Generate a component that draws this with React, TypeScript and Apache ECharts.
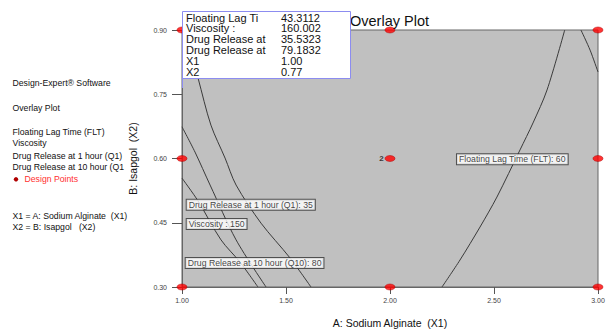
import React, { useEffect, useRef } from 'react';
import * as echarts from 'echarts';

// Design points (A: Sodium Alginate, B: Isapgol)
const designX = [1, 2, 3, 1, 2, 3, 1, 2, 3];
const designY = [0.9, 0.9, 0.9, 0.6, 0.6, 0.6, 0.3, 0.3, 0.3];
const designLabels = ['', '', '', '', '2', '', '', '', ''];

// Contour lines
const contourVisc150X = [1.0, 1.077, 1.1875, 1.279, 1.365];
const contourVisc150Y = [0.554, 0.501, 0.41, 0.358, 0.3];
const contourQ1X = [1.0, 1.0625, 1.135, 1.26, 1.404];
const contourQ1Y = [0.674, 0.615, 0.538, 0.41, 0.3];
const contourQ10X = [1.014, 1.077, 1.139, 1.207, 1.26, 1.38, 1.519, 1.62];
const contourQ10Y = [0.9, 0.788, 0.678, 0.601, 0.538, 0.449, 0.368, 0.3];
const contourFLT60X = [2.25, 2.3365, 2.4327, 2.514, 2.625, 2.6875, 2.755, 2.84];
const contourFLT60Y = [0.3, 0.363, 0.44, 0.51, 0.62, 0.683, 0.76, 0.9];
const contourCornerX = [2.918, 2.962, 3.0];
const contourCornerY = [0.9, 0.853, 0.802];

// Contour labels: text, anchor x, anchor y
const contourLabelText = [
  'Floating Lag Time (FLT): 60',
  'Drug Release at 1 hour (Q1): 35',
  'Viscosity : 150',
  'Drug Release at 10 hour (Q10): 80',
];
const contourLabelX = [2.322, 1.0226, 1.0226, 1.0178];
const contourLabelY = [0.598, 0.492, 0.447, 0.356];

// Axis ticks
const xTicks = { min: 1, max: 3, interval: 0.5 };
const yTicks = { min: 0.3, max: 0.9, interval: 0.15 };

// Flag box
const tipNames = ['Floating Lag Ti', 'Viscosity :', 'Drug Release at', 'Drug Release at', 'X1', 'X2'];
const tipValues = ['43.3112', '160.002', '35.5323', '79.1832', '1.00', '0.77'];

// Left panel
const panelLines = [
  'Design-Expert® Software',
  'Overlay Plot',
  'Floating Lag Time (FLT)',
  'Viscosity',
  'Drug Release at 1 hour (Q1)',
  'Drug Release at 10 hour (Q10)',
];
const panelLineY = [83.3, 107.7, 131.7, 143.3, 155.7, 167.3];
const factorLines = ['X1 = A: Sodium Alginate  (X1)', 'X2 = B: Isapgol   (X2)'];
const factorLineY = [215.7, 226.7];

const FONT = '"Liberation Sans", Arial, sans-serif';

function pairs(xs: number[], ys: number[]) {
  return xs.map((x, i) => [x, ys[i]]);
}

function contour(name: string, xs: number[], ys: number[]) {
  return {
    name,
    type: 'line',
    data: pairs(xs, ys),
    symbol: 'none',
    smooth: 0.3,
    silent: true,
    z: 3,
    lineStyle: { color: '#3a3a3a', width: 1 },
  };
}

export default function App() {
  const ref = useRef<HTMLDivElement>(null);
  useEffect(() => {
    const chart = echarts.init(ref.current!, null, { renderer: 'svg' });
    const graphicEls: any[] = [];
    // Title
    graphicEls.push({
      type: 'text',
      x: 350,
      y: 20.5,
      z: 100,
      style: { text: 'Overlay Plot', fontSize: 14.5, fontFamily: FONT, fill: '#111', verticalAlign: 'middle' },
    });
    // Left panel
    panelLines.forEach((t, i) => {
      graphicEls.push({
        type: 'text',
        x: 12.5,
        y: panelLineY[i],
        z: 100,
        style: {
          text: t,
          fontSize: 8.7,
          fontFamily: FONT,
          fill: '#111',
          verticalAlign: 'middle',
          width: 115,
          overflow: 'truncate',
          ellipsis: '',
        },
      });
    });
    graphicEls.push({
      type: 'circle',
      z: 100,
      shape: { cx: 16, cy: 179.3, r: 2.2 },
      style: { fill: '#b00000' },
    });
    graphicEls.push({
      type: 'text',
      x: 24.5,
      y: 179.3,
      z: 100,
      style: { text: 'Design Points', fontSize: 8.7, fontFamily: FONT, fill: '#ff3030', verticalAlign: 'middle' },
    });
    factorLines.forEach((t, i) => {
      graphicEls.push({
        type: 'text',
        x: 12.5,
        y: factorLineY[i],
        z: 100,
        style: { text: t, fontSize: 8.7, fontFamily: FONT, fill: '#111', verticalAlign: 'middle' },
      });
    });
    // Flag box
    graphicEls.push({
      type: 'rect',
      z: 100,
      shape: { x: 182.5, y: 11.5, width: 168, height: 67 },
      style: { fill: '#fff', stroke: '#8c8cf0', lineWidth: 1 },
    });
    graphicEls.push({
      type: 'line',
      z: 100,
      shape: { x1: 182.5, y1: 78, x2: 182.5, y2: 88 },
      style: { stroke: '#8c8cf0', lineWidth: 1 },
    });
    tipNames.forEach((t, i) => {
      graphicEls.push({
        type: 'text',
        x: 186,
        y: 17.5 + i * 10.8,
        z: 101,
        style: { text: t, fontSize: 11, fontFamily: FONT, fill: '#111', verticalAlign: 'middle' },
      });
      graphicEls.push({
        type: 'text',
        x: 281,
        y: 17.5 + i * 10.8,
        z: 101,
        style: { text: tipValues[i], fontSize: 11, fontFamily: FONT, fill: '#111', verticalAlign: 'middle' },
      });
    });

    const option: any = {
      animation: false,
      backgroundColor: '#fff',
      textStyle: { fontFamily: FONT },
      grid: {
        left: 182,
        top: 30,
        width: 416,
        height: 257,
        show: true,
        backgroundColor: '#c0c0c0',
        borderColor: '#666',
        borderWidth: 1,
      },
      xAxis: {
        type: 'value',
        min: xTicks.min,
        max: xTicks.max,
        interval: xTicks.interval,
        name: 'A: Sodium Alginate  (X1)',
        nameLocation: 'middle',
        nameGap: 30,
        nameTextStyle: { fontSize: 10.5, color: '#111', fontFamily: FONT },
        axisLine: { lineStyle: { color: '#666' } },
        axisTick: { show: true, inside: false, length: 7, lineStyle: { color: '#555' } },
        axisLabel: {
          fontSize: 7,
          color: '#444',
          margin: 10,
          formatter: (v: number) => v.toFixed(2),
        },
        splitLine: { show: false },
      },
      yAxis: {
        type: 'value',
        min: yTicks.min,
        max: yTicks.max,
        interval: yTicks.interval,
        name: 'B: Isapgol  (X2)',
        nameLocation: 'middle',
        nameGap: 44,
        nameRotate: 90,
        nameTextStyle: { fontSize: 10.5, color: '#111', fontFamily: FONT },
        axisLine: { lineStyle: { color: '#666' } },
        axisTick: { show: true, inside: false, length: 10, lineStyle: { color: '#555' } },
        axisLabel: {
          fontSize: 7,
          color: '#444',
          margin: 15,
          formatter: (v: number) => v.toFixed(2),
        },
        splitLine: { show: false },
      },
      series: [
        contour('Viscosity: 150', contourVisc150X, contourVisc150Y),
        contour('Q1: 35', contourQ1X, contourQ1Y),
        contour('Q10: 80', contourQ10X, contourQ10Y),
        contour('FLT: 60', contourFLT60X, contourFLT60Y),
        contour('FLT corner', contourCornerX, contourCornerY),
        {
          name: 'Contour labels',
          type: 'scatter',
          symbolSize: 0,
          silent: true,
          z: 5,
          clip: false,
          data: contourLabelText.map((t, i) => [contourLabelX[i], contourLabelY[i], t]),
          label: {
            show: true,
            position: [0, 0],
            align: 'left',
            verticalAlign: 'middle',
            formatter: (p: any) => p.data[2],
            fontSize: 8.7,
            fontFamily: FONT,
            color: '#111',
            backgroundColor: '#fff',
            borderColor: '#333',
            borderWidth: 1,
            padding: [1, 2, 0, 2],
          },
        },
        {
          name: 'Design Points',
          type: 'scatter',
          symbol: 'circle',
          symbolSize: [10, 6],
          clip: false,
          z: 6,
          itemStyle: { color: '#ff0000', borderColor: '#b00000', borderWidth: 0.6 },
          data: designX.map((x, i) => ({
            value: [x, designY[i]],
            label: {
              show: designLabels[i] !== '',
              formatter: designLabels[i],
              position: 'left',
              distance: 1,
              fontSize: 8,
              fontWeight: 'bold',
              color: '#111',
            },
          })),
        },
      ],
      graphic: { elements: graphicEls },
    };
    chart.setOption(option);
    return () => chart.dispose();
  }, []);
  return (
    <div
      ref={ref}
      style={{ position: 'fixed', left: 0, top: 0, width: 610, height: 333, background: '#fff' }}
    />
  );
}
